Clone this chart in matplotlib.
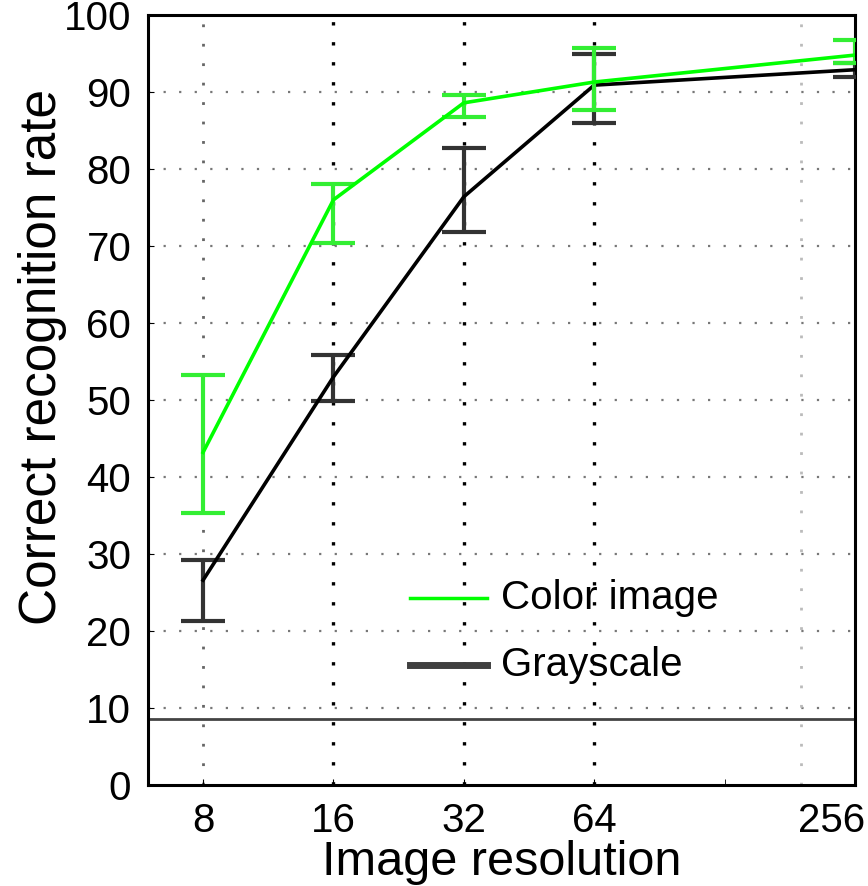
import numpy as np
import matplotlib
matplotlib.use("Agg")
import matplotlib.pyplot as plt
from matplotlib.transforms import ScaledTranslation

plt.rcParams['font.family'] = ['Liberation Sans', 'DejaVu Sans']

# data
resolution = [8, 16, 32, 64, 256]
tick_labels = ['8', '16', '32', '64', '256']

color_mean = [43.2, 76.0, 88.6, 91.3, 94.8]
color_low = [35.3, 70.4, 86.8, 87.7, 93.8]
color_high = [53.2, 78.0, 89.6, 95.7, 96.7]

gray_mean = [26.6, 53.0, 76.4, 90.9, 92.9]
gray_low = [21.3, 49.9, 71.8, 86.0, 92.0]
gray_high = [29.2, 55.8, 82.7, 95.0, 93.8]

chance_level = 8.6

fig = plt.figure(figsize=(8.68, 8.86), dpi=100)
ax = fig.add_axes([0.1705, 0.114, 0.8145, 0.869])

ax.set_xscale('log', base=2)
ax.set_xlim(5.97, 256)
ax.set_ylim(0, 100)

# grid
for y in range(10, 100, 10):
    ax.axhline(y, color='#777777', linestyle=(0, (1, 6)), linewidth=1.6, zorder=1)
ax.axvline(8, color='#666666', linestyle=(0, (1, 6)), linewidth=2, zorder=1)
for x in [16, 32, 64]:
    ax.axvline(x, color='black', linestyle=(0, (1, 5)), linewidth=2.4, zorder=1)
ax.axvline(192, color='#bbbbbb', linestyle=(0, (1, 6)), linewidth=2, zorder=1)

# chance level
ax.axhline(chance_level, color='#444444', linewidth=2, zorder=2)

# series
gray_err = [np.array(gray_mean) - np.array(gray_low), np.array(gray_high) - np.array(gray_mean)]
color_err = [np.array(color_mean) - np.array(color_low), np.array(color_high) - np.array(color_mean)]

ax.errorbar(resolution, gray_mean, yerr=gray_err, color='black', ecolor='#333333',
            linewidth=2.6, elinewidth=3, capsize=16, capthick=3, zorder=3)
ax.errorbar(resolution, color_mean, yerr=color_err, color='#00ff00', ecolor='#33ee33',
            linewidth=2.6, elinewidth=3, capsize=16, capthick=3, zorder=4)

# legend drawn by hand
ax.plot([24.1, 36.1], [24.3, 24.3], color='#00ff00', linewidth=2.5)
ax.plot([24.1, 36.1], [15.6, 15.6], color='#404040', linewidth=5)
ax.text(38.9, 24.3, 'Color image', fontsize=29, va='center', ha='left')
ax.text(38.9, 15.6, 'Grayscale', fontsize=29, va='center', ha='left')

# ticks
ax.set_xticks(resolution)
ax.set_xticklabels(tick_labels)
ax.set_xticks([128], minor=True)
ax.set_xticklabels([], minor=True)
ax.set_yticks(range(0, 101, 10))
ax.tick_params(axis='both', direction='in', length=4, labelsize=29, pad=12)
ax.tick_params(axis='x', which='minor', direction='in', length=4)
lbl = ax.get_xticklabels()[-1]
lbl.set_transform(lbl.get_transform() + ScaledTranslation(-0.23, 0, fig.dpi_scale_trans))

for s in ax.spines.values():
    s.set_linewidth(2.2)
    s.set_color('black')

ax.set_xlabel('Image resolution', fontsize=35, labelpad=0)
ax.set_ylabel('Correct recognition rate', fontsize=37)
ax.yaxis.set_label_coords(-0.115, 0.556)

fig.savefig('out.png', dpi=100)
